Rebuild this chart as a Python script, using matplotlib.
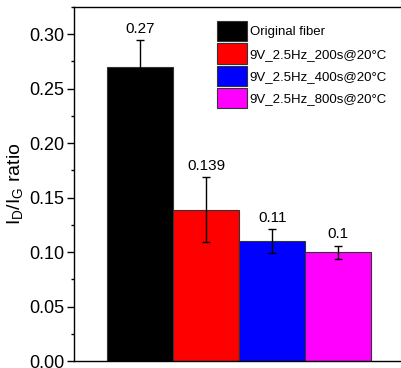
import matplotlib
matplotlib.use("Agg")
import matplotlib.pyplot as plt
from matplotlib.ticker import MultipleLocator

names = ["Original fiber", "9V_2.5Hz_200s@20°C", "9V_2.5Hz_400s@20°C", "9V_2.5Hz_800s@20°C"]
ratios = [0.27, 0.139, 0.11, 0.10]
errors = [0.025, 0.030, 0.011, 0.006]
labels = ["0.27", "0.139", "0.11", "0.1"]
colors = ["#000000", "#ff0000", "#0000ff", "#ff00ff"]

fam = ["Liberation Sans", "DejaVu Sans"]
plt.rcParams["font.family"] = fam
plt.rcParams["mathtext.fontset"] = "custom"
plt.rcParams["mathtext.rm"] = fam[0]

fig = plt.figure(figsize=(4.01, 3.68), dpi=100)
ax = fig.add_axes([74 / 401, 7 / 368, 1 - 74 / 401, 354 / 368])

x = list(range(len(ratios)))
bars = ax.bar(x, ratios, width=1.0, color=colors, edgecolor="#333333", linewidth=0.8)
ax.errorbar(x, ratios, yerr=errors, fmt="none", ecolor="black", elinewidth=1,
            capsize=3, capthick=1)

for xi, r, e, t in zip(x, ratios, errors, labels):
    ax.annotate(t, (xi, r + e), xytext=(0, 3), textcoords="offset points",
                ha="center", va="bottom", fontsize=11)

ax.set_xlim(-1.0, 3.95)
ax.set_ylim(0, 0.325)
ax.set_xticks([])
ax.yaxis.set_major_locator(MultipleLocator(0.05))
ax.yaxis.set_minor_locator(MultipleLocator(0.025))
ax.yaxis.set_major_formatter(matplotlib.ticker.FormatStrFormatter("%.2f"))
ax.tick_params(axis="y", which="major", length=5, width=1, labelsize=13, pad=2)
ax.tick_params(axis="y", which="minor", length=2.5, width=1)
ax.spines["right"].set_visible(False)
for s in ["left", "top", "bottom"]:
    ax.spines[s].set_linewidth(1.0)

ax.set_ylabel(r"$\mathregular{I_D/I_G}$ ratio", fontsize=14)
ax.yaxis.set_label_coords(-0.15, 0.5)

ax.legend(handles=list(bars), labels=names, loc="upper left",
          bbox_to_anchor=(217 / 401, 1 - 21 / 368), bbox_transform=fig.transFigure,
          frameon=False, fontsize=9.5, handlelength=2.27, handleheight=2.0,
          labelspacing=0.15, handletextpad=0.2, borderpad=0, borderaxespad=0)

fig.savefig("out.png", dpi=100)
